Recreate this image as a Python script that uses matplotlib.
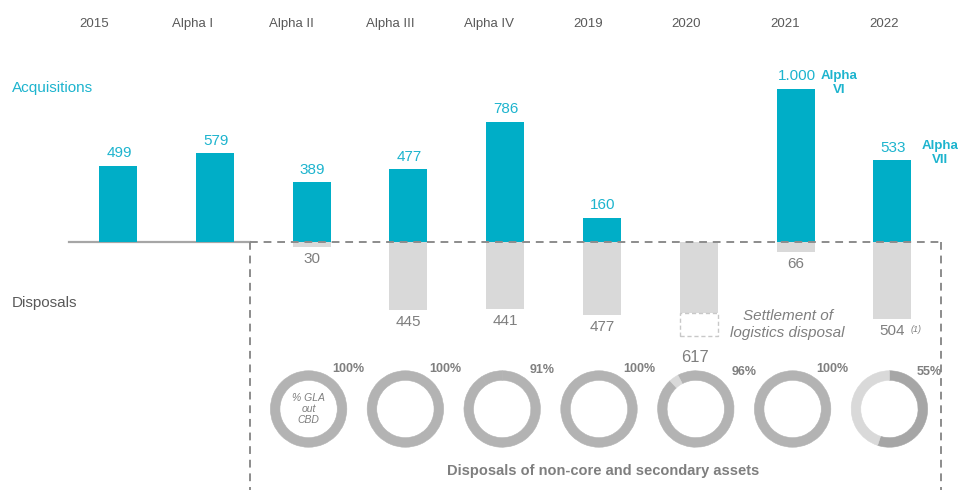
import numpy as np
import matplotlib
matplotlib.use("Agg")
import matplotlib.pyplot as plt
from matplotlib.patches import Rectangle
from matplotlib.lines import Line2D

plt.rcParams['font.family'] = ['Liberation Sans', 'DejaVu Sans']

# ---------------- data ----------------
categories = ["2015", "Alpha I", "Alpha II", "Alpha III", "Alpha IV", "2019", "2020", "2021", "2022"]
acquisitions = [499, 579, 389, 477, 786, 160, 0, 1000, 533]
acq_labels = ["499", "579", "389", "477", "786", "160", "", "1.000", "533"]
disposals = [0, 0, 30, 445, 441, 477, 617, 66, 504]
disp_labels = ["", "", "30", "445", "441", "477", "617", "66", "504"]
settlement_2020 = 155          # part of 2020 disposals shown as dashed "settlement"
gla_pct = [100, 100, 91, 100, 96, 100, 55]          # donuts for Alpha II .. 2022
gla_labels = ["100%", "100%", "91%", "100%", "96%", "100%", "55%"]

# ---------------- style ----------------
W, H = 958, 490
CYAN = "#00AEC7"
CYAN_T = "#1DB4CE"
GREY_BAR = "#D9D9D9"
DARK = "#595959"
MID = "#7F7F7F"

fig = plt.figure(figsize=(W / 100, H / 100), dpi=100)
ax = fig.add_axes([0, 0, 1, 1])
ax.axis('off')

x0_px, dx_px = 118, 96.8          # first bar centre / spacing (px)
base_px = 242                     # baseline from top (px)
ppu = 0.153                       # px per unit
xl = -x0_px / dx_px
ax.set_xlim(xl, xl + W / dx_px)
ax.set_ylim(-(H - base_px) / ppu, base_px / ppu)

def px2x(px):
    return xl + px / dx_px

def py2y(py):
    return (base_px - py) / ppu

pos = np.arange(len(categories))
bw = 38 / dx_px

# acquisitions
ax.bar(pos, acquisitions, width=bw, color=CYAN, zorder=3)
for p, v, lab in zip(pos, acquisitions, acq_labels):
    if lab:
        ax.text(p + 0.01, v + 12.5 / ppu, lab, ha='center', va='center',
                fontsize=11, color=CYAN_T, zorder=4)

# disposals (solid part)
solid = [d - (settlement_2020 if c == "2020" else 0) for c, d in zip(categories, disposals)]
ax.bar(pos, [-s for s in solid], width=bw, color=GREY_BAR, zorder=2)
for p, c, d, lab in zip(pos, categories, disposals, disp_labels):
    if not lab:
        continue
    if c == "2020":
        ax.text(p - 0.04, py2y(357), lab, ha='center', va='center', fontsize=12, color=MID)
    else:
        ax.text(p, -d - 12 / ppu, lab, ha='center', va='center', fontsize=11, color=MID)

# 2020 settlement dashed box
i20 = categories.index("2020")
ax.add_patch(Rectangle((i20 - bw / 2, -disposals[i20]), bw, settlement_2020,
                       facecolor='white', edgecolor='#C8C8C8', lw=1.0,
                       linestyle=(0, (3, 2)), zorder=2))
ax.text(px2x(788), py2y(316), "Settlement of", ha='center', va='center',
        fontsize=11, style='italic', color=MID)
ax.text(px2x(787), py2y(333), "logistics disposal", ha='center', va='center',
        fontsize=11, style='italic', color=MID)

# (1) footnote
i22 = categories.index("2022")
ax.text(i22 + 0.19, -disposals[i22] - 10.5 / ppu, "(1)", ha='left', va='center',
        fontsize=6.5, style='italic', color=MID)

# baseline
ax.add_line(Line2D([px2x(69), px2x(250)], [0, 0], color='#A6A6A6', lw=1.6, zorder=1))
dash = (0, (4, 3))
ax.add_line(Line2D([px2x(250), px2x(941)], [0, 0], color='#8C8C8C', lw=1.4,
                   linestyle=dash, zorder=4))
ax.add_line(Line2D([px2x(250), px2x(250)], [0, py2y(H)], color='#8C8C8C', lw=1.4,
                   linestyle=dash, zorder=1))
ax.add_line(Line2D([px2x(941), px2x(941)], [0, py2y(H)], color='#8C8C8C', lw=1.4,
                   linestyle=dash, zorder=1))

# category headers (sit slightly left of the bars)
hx0, hdx = 94, 98.75
for i, c in enumerate(categories):
    fig.text((hx0 + hdx * i) / W, 1 - 24 / H, c, ha='center', va='center',
             fontsize=9.5, color=DARK)

# side labels
fig.text(12 / W, 1 - 88 / H, "Acquisitions", ha='left', va='center', fontsize=11, color=CYAN_T)
fig.text(12 / W, 1 - 303 / H, "Disposals", ha='left', va='center', fontsize=11, color=DARK)

# Alpha VI / VII
ax.text(px2x(839), py2y(83), "Alpha\nVI", ha='center', va='center', fontsize=9.5,
        fontweight='bold', color=CYAN_T, linespacing=1.25)
ax.text(px2x(940), py2y(153), "Alpha\nVII", ha='center', va='center', fontsize=9.5,
        fontweight='bold', color=CYAN_T, linespacing=1.25)

# donuts
R = 39
donut_pos = pos[2:]
main_cols = ["#B3B3B3", "#B3B3B3", "#B3B3B3", "#B3B3B3", "#B3B3B3", "#B3B3B3", "#A6A6A6"]
rest_cols = ["#D9D9D9", "#D9D9D9", "#B3B3B3", "#D9D9D9", "#D9D9D9", "#D9D9D9", "#D9D9D9"]
starts = [90, 90, 90, 90, 118, 90, 90]
lab_dx = [40, 40, 40, 40, 48, 40, 40]
lab_dy = [-40, -40, -39, -40, -37, -40, -37]
cy = 409
for k, (p, pct, lab) in enumerate(zip(donut_pos, gla_pct, gla_labels)):
    cx = x0_px + dx_px * p - 3
    dax = fig.add_axes([(cx - R) / W, 1 - (cy + R) / H, 2 * R / W, 2 * R / H])
    vals = [pct, 100 - pct]
    wedges, _ = dax.pie(vals, colors=[main_cols[k], rest_cols[k]],
                        startangle=starts[k], counterclock=False, radius=1.0,
                        wedgeprops=dict(width=0.25, linewidth=0.4))
    for w, v in zip(wedges, vals):
        if v == 0:
            w.set_visible(False)
        else:
            w.set_edgecolor(w.get_facecolor())
    dax.set_xlim(-1.02, 1.02)
    dax.set_ylim(-1.02, 1.02)
    dax.set_aspect('equal')
    dax.axis('off')
    fig.text((cx + lab_dx[k]) / W, 1 - (cy + lab_dy[k]) / H, lab, ha='center', va='center',
             fontsize=9, fontweight='bold', color=MID)
    if k == 0:
        fig.text(cx / W, 1 - cy / H, "% GLA\nout\nCBD", ha='center', va='center',
                 fontsize=7.5, style='italic', color=MID, linespacing=1.1)

fig.text(603 / W, 1 - 471 / H, "Disposals of non-core and secondary assets", ha='center',
         va='center', fontsize=10.5, fontweight='bold', color=MID)

fig.savefig("out.png", dpi=100)
